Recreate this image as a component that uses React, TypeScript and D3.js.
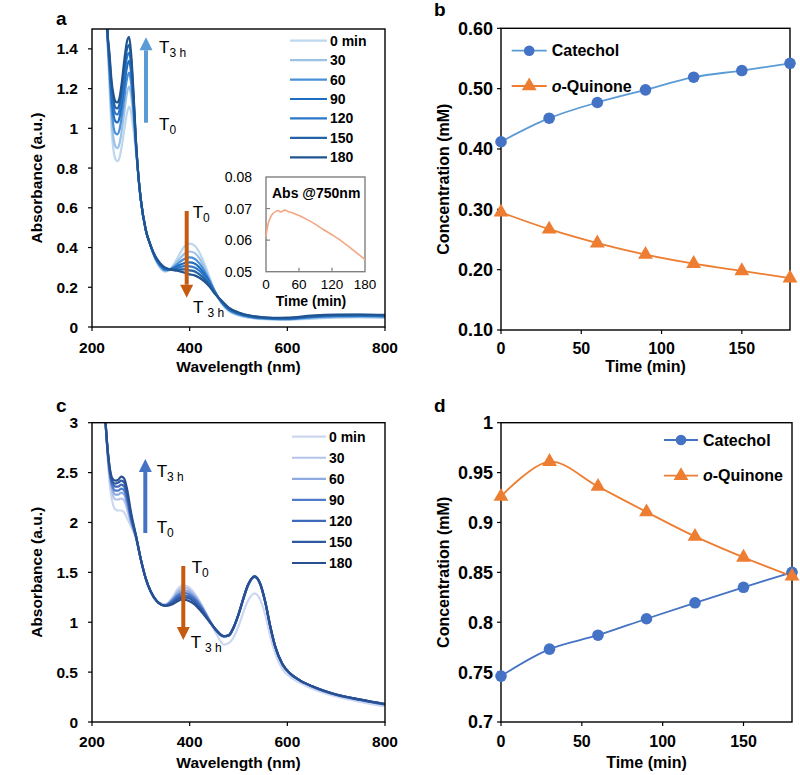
import React from 'react';
import * as d3 from 'd3';

const FONT = "'Liberation Sans', Arial, Helvetica, sans-serif";

// ---------- legends ----------
const timeLabels = ['0 min', '30', '60', '90', '120', '150', '180'];
const colorsA = ['#bdd7ee', '#9bc2e6', '#4a90d9', '#1f6dc0', '#2b77c9', '#2462a8', '#1f5490'];
const colorsC = ['#cdd7f0', '#b4c4e8', '#8eaadf', '#4f7bcb', '#3e68ba', '#2f58a4', '#285091'];

// ---------- panel a spectra ----------
const wlA = [226, 231, 236, 240, 244, 248, 252, 256, 261, 266, 271, 276, 280, 285, 290, 295, 300, 310, 320, 330, 340, 350, 360, 370, 380, 390, 400, 410, 420, 430, 440, 450, 465, 480, 500, 530, 570, 600, 650, 700, 750, 800];
const specA0 = [1.95, 1.50, 1.20, 1.00, 0.89, 0.845, 0.835, 0.85, 0.91, 0.99, 1.07, 1.11, 1.08, 0.99, 0.88, 0.76, 0.64, 0.49, 0.41, 0.34, 0.295, 0.278, 0.29, 0.325, 0.37, 0.407, 0.42, 0.41, 0.375, 0.32, 0.255, 0.19, 0.12, 0.08, 0.058, 0.044, 0.037, 0.036, 0.042, 0.047, 0.048, 0.046];
const specA30 = [1.95, 1.51, 1.25, 1.06, 0.95, 0.91, 0.90, 0.92, 0.99, 1.08, 1.17, 1.21, 1.17, 1.05, 0.90, 0.76, 0.64, 0.49, 0.41, 0.342, 0.30, 0.282, 0.29, 0.315, 0.345, 0.37, 0.38, 0.373, 0.345, 0.30, 0.245, 0.188, 0.122, 0.083, 0.061, 0.046, 0.039, 0.038, 0.045, 0.05, 0.051, 0.049];
const specA60 = [1.95, 1.51, 1.28, 1.11, 1.01, 0.975, 0.97, 0.99, 1.06, 1.15, 1.24, 1.28, 1.23, 1.09, 0.91, 0.76, 0.64, 0.49, 0.41, 0.345, 0.305, 0.286, 0.29, 0.307, 0.328, 0.343, 0.35, 0.344, 0.32, 0.283, 0.237, 0.186, 0.125, 0.086, 0.064, 0.048, 0.041, 0.04, 0.048, 0.053, 0.054, 0.052];
const specA90 = [1.95, 1.52, 1.31, 1.16, 1.07, 1.035, 1.03, 1.05, 1.12, 1.21, 1.30, 1.34, 1.28, 1.12, 0.92, 0.76, 0.64, 0.49, 0.41, 0.347, 0.31, 0.29, 0.29, 0.30, 0.313, 0.322, 0.325, 0.32, 0.30, 0.268, 0.23, 0.183, 0.127, 0.089, 0.067, 0.05, 0.043, 0.042, 0.051, 0.056, 0.057, 0.055];
const specA120 = [1.95, 1.52, 1.33, 1.19, 1.11, 1.075, 1.07, 1.09, 1.16, 1.26, 1.35, 1.38, 1.32, 1.14, 0.93, 0.76, 0.64, 0.49, 0.41, 0.35, 0.313, 0.293, 0.29, 0.295, 0.302, 0.306, 0.305, 0.30, 0.283, 0.256, 0.222, 0.18, 0.129, 0.092, 0.069, 0.052, 0.044, 0.044, 0.053, 0.058, 0.059, 0.057];
const specA150 = [1.95, 1.52, 1.35, 1.22, 1.14, 1.105, 1.10, 1.12, 1.20, 1.30, 1.39, 1.42, 1.35, 1.16, 0.93, 0.76, 0.64, 0.49, 0.41, 0.352, 0.316, 0.296, 0.29, 0.29, 0.29, 0.29, 0.285, 0.28, 0.265, 0.243, 0.214, 0.176, 0.131, 0.095, 0.071, 0.053, 0.045, 0.045, 0.055, 0.06, 0.061, 0.059];
const specA180 = [1.95, 1.52, 1.37, 1.24, 1.17, 1.135, 1.13, 1.15, 1.23, 1.34, 1.43, 1.46, 1.38, 1.18, 0.94, 0.76, 0.64, 0.49, 0.41, 0.355, 0.32, 0.298, 0.29, 0.285, 0.28, 0.273, 0.265, 0.26, 0.248, 0.23, 0.205, 0.172, 0.133, 0.098, 0.073, 0.055, 0.046, 0.047, 0.057, 0.062, 0.063, 0.061];
const specA = [specA0, specA30, specA60, specA90, specA120, specA150, specA180];

// ---------- panel a inset ----------
const insetTime = [0, 3, 8, 13, 18, 22, 26, 30, 34, 40, 50, 60, 75, 90, 105, 120, 135, 150, 165, 180];
const insetAbs = [0.0612, 0.0645, 0.0672, 0.0685, 0.0691, 0.0694, 0.0689, 0.0692, 0.0695, 0.0691, 0.0685, 0.0678, 0.0665, 0.065, 0.0633, 0.0617, 0.06, 0.058, 0.056, 0.0538];
const insetYTicks = [0.05, 0.06, 0.07, 0.08];
const insetYLabels = ['0.05', '0.06', '0.07', '0.08'];
const insetXTicks = [0, 60, 120, 180];

// ---------- panel c spectra ----------
const wlC = [224, 230, 236, 242, 248, 254, 260, 266, 272, 280, 290, 300, 310, 320, 335, 350, 365, 375, 385, 395, 410, 425, 440, 455, 470, 480, 490, 500, 510, 520, 533, 545, 555, 565, 575, 590, 605, 625, 650, 700, 750, 800];
const specC0 = [3.3, 2.80, 2.40, 2.20, 2.13, 2.12, 2.12, 2.10, 2.04, 1.96, 1.84, 1.63, 1.44, 1.31, 1.20, 1.18, 1.25, 1.33, 1.37, 1.36, 1.29, 1.17, 1.03, 0.88, 0.775, 0.79, 0.85, 0.96, 1.10, 1.22, 1.29, 1.22, 1.07, 0.86, 0.69, 0.53, 0.455, 0.395, 0.335, 0.255, 0.20, 0.155];
const specC30 = [3.3, 2.82, 2.46, 2.29, 2.23, 2.23, 2.24, 2.22, 2.13, 1.99, 1.85, 1.63, 1.44, 1.31, 1.20, 1.175, 1.24, 1.31, 1.345, 1.34, 1.275, 1.165, 1.03, 0.905, 0.855, 0.862, 0.94, 1.07, 1.23, 1.37, 1.45, 1.37, 1.19, 0.955, 0.755, 0.575, 0.485, 0.415, 0.355, 0.27, 0.218, 0.173];
const specC60 = [3.3, 2.83, 2.49, 2.33, 2.28, 2.28, 2.30, 2.28, 2.18, 2.01, 1.85, 1.63, 1.44, 1.31, 1.20, 1.17, 1.23, 1.29, 1.32, 1.315, 1.26, 1.155, 1.025, 0.91, 0.857, 0.865, 0.945, 1.075, 1.235, 1.373, 1.455, 1.375, 1.195, 0.957, 0.757, 0.577, 0.487, 0.417, 0.357, 0.272, 0.22, 0.175];
const specC90 = [3.3, 2.84, 2.51, 2.36, 2.32, 2.32, 2.34, 2.32, 2.22, 2.03, 1.86, 1.63, 1.44, 1.31, 1.20, 1.17, 1.22, 1.27, 1.295, 1.29, 1.24, 1.145, 1.02, 0.915, 0.858, 0.867, 0.947, 1.077, 1.237, 1.376, 1.457, 1.377, 1.197, 0.958, 0.758, 0.578, 0.488, 0.418, 0.358, 0.273, 0.222, 0.177];
const specC120 = [3.3, 2.84, 2.53, 2.39, 2.36, 2.36, 2.38, 2.36, 2.26, 2.05, 1.86, 1.63, 1.44, 1.31, 1.20, 1.165, 1.205, 1.25, 1.27, 1.265, 1.22, 1.13, 1.015, 0.915, 0.86, 0.868, 0.948, 1.078, 1.238, 1.378, 1.458, 1.378, 1.198, 0.959, 0.759, 0.579, 0.489, 0.419, 0.359, 0.274, 0.223, 0.178];
const specC150 = [3.3, 2.85, 2.55, 2.41, 2.39, 2.40, 2.42, 2.40, 2.29, 2.07, 1.87, 1.63, 1.44, 1.31, 1.20, 1.165, 1.19, 1.23, 1.25, 1.245, 1.20, 1.115, 1.01, 0.92, 0.86, 0.87, 0.95, 1.08, 1.24, 1.38, 1.46, 1.38, 1.20, 0.96, 0.76, 0.58, 0.49, 0.42, 0.36, 0.275, 0.224, 0.179];
const specC180 = [3.3, 2.85, 2.56, 2.44, 2.42, 2.43, 2.46, 2.44, 2.33, 2.10, 1.87, 1.63, 1.44, 1.31, 1.20, 1.165, 1.18, 1.21, 1.23, 1.22, 1.18, 1.10, 1.01, 0.92, 0.86, 0.87, 0.95, 1.08, 1.24, 1.38, 1.46, 1.38, 1.20, 0.96, 0.76, 0.58, 0.49, 0.42, 0.36, 0.275, 0.225, 0.18];
const specC = [specC0, specC30, specC60, specC90, specC120, specC150, specC180];

// ---------- panels b, d ----------
const timeMin = [0, 30, 60, 90, 120, 150, 180];
const catecholB = [0.412, 0.451, 0.477, 0.498, 0.519, 0.530, 0.542];
const quinoneB = [0.295, 0.267, 0.244, 0.225, 0.210, 0.198, 0.186];
const catecholD = [0.746, 0.773, 0.787, 0.8035, 0.8195, 0.835, 0.850];
const quinoneD = [0.926, 0.961, 0.936, 0.9105, 0.886, 0.865, 0.846];

// ---------- ticks ----------
const wlTicks = [200, 400, 600, 800];
const wlLabels = ['200', '400', '600', '800'];
const aYTicks = [0, 0.2, 0.4, 0.6, 0.8, 1, 1.2, 1.4];
const aYLabels = ['0', '0.2', '0.4', '0.6', '0.8', '1', '1.2', '1.4'];
const cYTicks = [0, 0.5, 1, 1.5, 2, 2.5, 3];
const cYLabels = ['0', '0.5', '1', '1.5', '2', '2.5', '3'];
const tTicks = [0, 50, 100, 150];
const tLabels = ['0', '50', '100', '150'];
const bYTicks = [0.1, 0.2, 0.3, 0.4, 0.5, 0.6];
const bYLabels = ['0.10', '0.20', '0.30', '0.40', '0.50', '0.60'];
const dYTicks = [0.7, 0.75, 0.8, 0.85, 0.9, 0.95, 1];
const dYLabels = ['0.7', '0.75', '0.8', '0.85', '0.9', '0.95', '1'];

type Lin = d3.ScaleLinear<number, number>;

function Frame({ xs, ys }: { xs: Lin; ys: Lin }) {
  const [x0, x1] = xs.range();
  const [y1, y0] = ys.range();
  return <rect x={x0} y={y0} width={x1 - x0} height={y1 - y0} fill="none" stroke="#000" strokeWidth={1.4} />;
}

function YAxis({ xs, ys, ticks, labels, fs, off }: { xs: Lin; ys: Lin; ticks: number[]; labels: string[]; fs: number; off: number }) {
  const x0 = xs.range()[0];
  return (
    <g>
      {ticks.map((t, i) => (
        <g key={i}>
          <line x1={x0 - 4} x2={x0} y1={ys(t)} y2={ys(t)} stroke="#000" strokeWidth={1.2} />
          <text x={x0 - off} y={ys(t)} dy="0.36em" textAnchor="end" fontSize={fs} fontWeight="bold">{labels[i]}</text>
        </g>
      ))}
    </g>
  );
}

function XAxis({ xs, ys, ticks, labels, fs, base }: { xs: Lin; ys: Lin; ticks: number[]; labels: string[]; fs: number; base: number }) {
  const y0 = ys.range()[0];
  return (
    <g>
      {ticks.map((t, i) => (
        <g key={i}>
          <line x1={xs(t)} x2={xs(t)} y1={y0} y2={y0 + 4} stroke="#000" strokeWidth={1.2} />
          <text x={xs(t)} y={base} textAnchor="middle" fontSize={fs} fontWeight="bold">{labels[i]}</text>
        </g>
      ))}
    </g>
  );
}

function Arrow({ x, yFrom, yTo, color }: { x: number; yFrom: number; yTo: number; color: string }) {
  const dir = yTo > yFrom ? 1 : -1;
  const headL = 13;
  const headW = 6.5;
  const baseY = yTo - dir * headL;
  return (
    <g>
      <line x1={x} x2={x} y1={yFrom} y2={baseY} stroke={color} strokeWidth={4} />
      <polygon points={`${x - headW},${baseY} ${x + headW},${baseY} ${x},${yTo}`} fill={color} />
    </g>
  );
}

function TLabel({ x, y, sub, gap }: { x: number; y: number; sub: string; gap?: boolean }) {
  return (
    <text x={x} y={y} fontSize={17}>
      T<tspan dx={gap ? 4 : 0} dy={4} fontSize={12}>{sub}</tspan>
    </text>
  );
}

function Spectra({ xs, ys, wl, series, colors, clipId }: { xs: Lin; ys: Lin; wl: number[]; series: number[][]; colors: string[]; clipId: string }) {
  const [x0, x1] = xs.range();
  const [y1, y0] = ys.range();
  const gen = d3.line<number>().x((_, i) => xs(wl[i])).y(d => ys(d)).curve(d3.curveMonotoneX);
  return (
    <g>
      <defs>
        <clipPath id={clipId}>
          <rect x={x0} y={y0} width={x1 - x0} height={y1 - y0} />
        </clipPath>
      </defs>
      <g clipPath={`url(#${clipId})`}>
        {series.map((s, k) => (
          <path key={k} d={gen(s) || ''} fill="none" stroke={colors[k]} strokeWidth={2.2} />
        ))}
      </g>
    </g>
  );
}

function SpecLegend({ x1, x2, ys0, dy, colors }: { x1: number; x2: number; ys0: number; dy: number; colors: string[] }) {
  return (
    <g>
      {timeLabels.map((t, k) => (
        <g key={k}>
          <line x1={x1} x2={x2} y1={ys0 + k * dy} y2={ys0 + k * dy} stroke={colors[k]} strokeWidth={2.2} />
          <text x={x2 + 3} y={ys0 + k * dy + 5} fontSize={14} fontWeight="bold">{t}</text>
        </g>
      ))}
    </g>
  );
}

function Kinetics({ xs, ys, cat, qui, catLine, leg }: { xs: Lin; ys: Lin; cat: number[]; qui: number[]; catLine: string; leg: { x1: number; x2: number; y1: number; y2: number } }) {
  const gen = (vals: number[]) => d3.line<number>().x((_, i) => xs(timeMin[i])).y(d => ys(d)).curve(d3.curveCatmullRom.alpha(0.5))(vals) || '';
  const tri = d3.symbol(d3.symbolTriangle, 95)() || '';
  const blue = '#4472c4';
  const orange = '#ed7d31';
  const mx = (leg.x1 + leg.x2) / 2;
  return (
    <g>
      <path d={gen(cat)} fill="none" stroke={catLine} strokeWidth={1.8} />
      <path d={gen(qui)} fill="none" stroke={orange} strokeWidth={1.8} />
      {cat.map((v, i) => <circle key={'c' + i} cx={xs(timeMin[i])} cy={ys(v)} r={5.8} fill={blue} />)}
      {qui.map((v, i) => <path key={'q' + i} d={tri} transform={`translate(${xs(timeMin[i])},${ys(v)})`} fill={orange} />)}
      <line x1={leg.x1} x2={leg.x2} y1={leg.y1} y2={leg.y1} stroke={catLine} strokeWidth={1.8} />
      <circle cx={mx} cy={leg.y1} r={5.3} fill={blue} />
      <text x={leg.x2 + 5} y={leg.y1 + 5.5} fontSize={16} fontWeight="bold">Catechol</text>
      <line x1={leg.x1} x2={leg.x2} y1={leg.y2} y2={leg.y2} stroke={orange} strokeWidth={1.8} />
      <path d={tri} transform={`translate(${mx},${leg.y2})`} fill={orange} />
      <text x={leg.x2 + 5} y={leg.y2 + 5.5} fontSize={16} fontWeight="bold">
        <tspan fontStyle="italic">o</tspan>-Quinone
      </text>
    </g>
  );
}

export default function App() {
  // panel a
  const ax = d3.scaleLinear().domain([200, 800]).range([92, 385]);
  const ay = d3.scaleLinear().domain([0, 1.5]).range([327, 29]);
  // inset
  const ix = d3.scaleLinear().domain([0, 180]).range([266, 365]);
  const iy = d3.scaleLinear().domain([0.05, 0.08]).range([271.7, 177]);
  const insetGen = d3.line<number>().x((_, i) => ix(insetTime[i])).y(d => iy(d)).curve(d3.curveMonotoneX);
  // panel b
  const bx = d3.scaleLinear().domain([0, 180]).range([501, 790]);
  const by = d3.scaleLinear().domain([0.1, 0.6]).range([330, 28.3]);
  // panel c
  const cx = d3.scaleLinear().domain([200, 800]).range([92, 385]);
  const cy = d3.scaleLinear().domain([0, 3]).range([722, 422.7]);
  // panel d
  const dx = d3.scaleLinear().domain([0, 180]).range([501, 792]);
  const dy = d3.scaleLinear().domain([0.7, 1]).range([722, 422.7]);

  return (
    <svg width={800} height={775} style={{ position: 'absolute', left: 0, top: 0, background: '#fff' }} fontFamily={FONT}>
      <rect x={0} y={0} width={800} height={775} fill="#fff" />

      {/* ---------------- panel a ---------------- */}
      <text x={56} y={25} fontSize={19} fontWeight="bold">a</text>
      <Spectra xs={ax} ys={ay} wl={wlA} series={specA} colors={colorsA} clipId="clipA" />
      <Frame xs={ax} ys={ay} />
      <YAxis xs={ax} ys={ay} ticks={aYTicks} labels={aYLabels} fs={15.5} off={14} />
      <XAxis xs={ax} ys={ay} ticks={wlTicks} labels={wlLabels} fs={15.5} base={353} />
      <text transform={`translate(42,${(29 + 327) / 2}) rotate(-90)`} textAnchor="middle" fontSize={15.5} fontWeight="bold">Absorbance (a.u.)</text>
      <text x={238.5} y={372} textAnchor="middle" fontSize={15.5} fontWeight="bold">Wavelength (nm)</text>
      <SpecLegend x1={290} x2={327} ys0={40.7} dy={19.43} colors={colorsA} />
      <Arrow x={146} yFrom={122.7} yTo={37.3} color="#5b9bd5" />
      <TLabel x={159} y={53} sub="3 h" />
      <TLabel x={159} y={130} sub="0" />
      <Arrow x={186.7} yFrom={211} yTo={297.7} color="#c55a11" />
      <TLabel x={192.7} y={218} sub="0" />
      <TLabel x={193} y={313} sub="3 h" gap />

      {/* inset */}
      <rect x={266} y={177} width={99} height={94.7} fill="#fff" stroke="#808080" strokeWidth={1.4} />
      <path d={insetGen(insetAbs) || ''} fill="none" stroke="#f4a582" strokeWidth={1.6} />
      {insetYTicks.map((t, i) => (
        <g key={'iy' + i}>
          {i > 0 && i < insetYTicks.length - 1 && <line x1={266} x2={270} y1={iy(t)} y2={iy(t)} stroke="#808080" strokeWidth={1.2} />}
          <text x={252} y={iy(t)} dy="0.36em" textAnchor="end" fontSize={14}>{insetYLabels[i]}</text>
        </g>
      ))}
      {insetXTicks.map((t, i) => (
        <g key={'ix' + i}>
          {i > 0 && i < insetXTicks.length - 1 && <line x1={ix(t)} x2={ix(t)} y1={271.7} y2={267.7} stroke="#808080" strokeWidth={1.2} />}
          <text x={ix(t)} y={289} textAnchor="middle" fontSize={13.5}>{t}</text>
        </g>
      ))}
      <text x={272} y={198} fontSize={14} fontWeight="bold">Abs @750nm</text>
      <text x={311} y={306} textAnchor="middle" fontSize={14} fontWeight="bold">Time (min)</text>

      {/* ---------------- panel b ---------------- */}
      <text x={434} y={16} fontSize={19} fontWeight="bold">b</text>
      <Frame xs={bx} ys={by} />
      <YAxis xs={bx} ys={by} ticks={bYTicks} labels={bYLabels} fs={18} off={8} />
      <XAxis xs={bx} ys={by} ticks={tTicks} labels={tLabels} fs={16} base={354} />
      <text transform={`translate(449,${(28.3 + 330) / 2}) rotate(-90)`} textAnchor="middle" fontSize={16} fontWeight="bold">Concentration (mM)</text>
      <text x={645.5} y={372} textAnchor="middle" fontSize={16} fontWeight="bold">Time (min)</text>
      <Kinetics xs={bx} ys={by} cat={catecholB} qui={quinoneB} catLine="#5b9bd5" leg={{ x1: 511.7, x2: 546.7, y1: 50.7, y2: 86 }} />

      {/* ---------------- panel c ---------------- */}
      <text x={56} y={412} fontSize={19} fontWeight="bold">c</text>
      <Spectra xs={cx} ys={cy} wl={wlC} series={specC} colors={colorsC} clipId="clipC" />
      <Frame xs={cx} ys={cy} />
      <YAxis xs={cx} ys={cy} ticks={cYTicks} labels={cYLabels} fs={15.5} off={14} />
      <XAxis xs={cx} ys={cy} ticks={wlTicks} labels={wlLabels} fs={15.5} base={747} />
      <text transform={`translate(42,${(422.7 + 722) / 2}) rotate(-90)`} textAnchor="middle" fontSize={15.5} fontWeight="bold">Absorbance (a.u.)</text>
      <text x={238.5} y={768} textAnchor="middle" fontSize={15.5} fontWeight="bold">Wavelength (nm)</text>
      <SpecLegend x1={292} x2={326} ys0={436.7} dy={21.05} colors={colorsC} />
      <Arrow x={145.3} yFrom={533} yTo={459} color="#4472c4" />
      <TLabel x={156.7} y={476.7} sub="3 h" />
      <TLabel x={156.7} y={533} sub="0" />
      <Arrow x={183.3} yFrom={566} yTo={640} color="#c55a11" />
      <TLabel x={191.7} y={572.7} sub="0" />
      <TLabel x={190.7} y={648} sub="3 h" gap />

      {/* ---------------- panel d ---------------- */}
      <text x={434} y={411.5} fontSize={19} fontWeight="bold">d</text>
      <Frame xs={dx} ys={dy} />
      <YAxis xs={dx} ys={dy} ticks={dYTicks} labels={dYLabels} fs={18} off={8} />
      <XAxis xs={dx} ys={dy} ticks={tTicks} labels={tLabels} fs={16} base={747} />
      <text transform={`translate(449,${(422.7 + 722) / 2}) rotate(-90)`} textAnchor="middle" fontSize={16} fontWeight="bold">Concentration (mM)</text>
      <text x={646.5} y={768} textAnchor="middle" fontSize={16} fontWeight="bold">Time (min)</text>
      <Kinetics xs={dx} ys={dy} cat={catecholD} qui={quinoneD} catLine="#4472c4" leg={{ x1: 664, x2: 698, y1: 440, y2: 475.7 }} />
    </svg>
  );
}
